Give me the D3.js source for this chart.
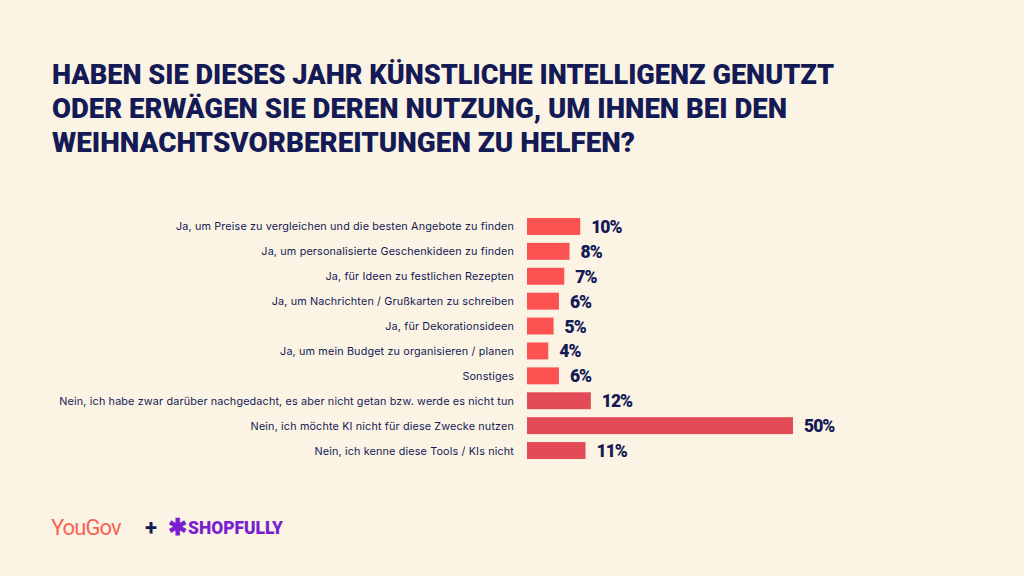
<!DOCTYPE html><html><head><meta charset="utf-8"><script src="https://cdn.jsdelivr.net/npm/d3@7"></script>
<style>body{margin:0;background:#fbf4e4}</style></head><body><script>
const categories=["Ja, um Preise zu vergleichen und die besten Angebote zu finden","Ja, um personalisierte Geschenkideen zu finden","Ja, für Ideen zu festlichen Rezepten","Ja, um Nachrichten / Grußkarten zu schreiben","Ja, für Dekorationsideen","Ja, um mein Budget zu organisieren / planen","Sonstiges","Nein, ich habe zwar darüber nachgedacht, es aber nicht getan bzw. werde es nicht tun","Nein, ich möchte KI nicht für diese Zwecke nutzen","Nein, ich kenne diese Tools / KIs nicht"];
const values=[10,8,7,6,5,4,6,12,50,11];
const titleLines=["HABEN SIE DIESES JAHR KÜNSTLICHE INTELLIGENZ GENUTZT","ODER ERWÄGEN SIE DEREN NUTZUNG, UM IHNEN BEI DEN","WEIHNACHTSVORBEREITUNGEN ZU HELFEN?"];
const svg=d3.select("body").append("svg").attr("width",1024).attr("height",576);
svg.append("rect").attr("width",1024).attr("height",576).attr("fill","#fbf4e4");
svg.selectAll("text.t").data(titleLines).join("text").attr("x",52).attr("y",(d,i)=>84+i*34)
 .attr("font-family","Roboto, sans-serif").attr("font-weight",900).attr("font-size",27).attr("fill","#141a55")
 .attr("textLength",(d,i)=>[782,735,583][i]).attr("lengthAdjust","spacingAndGlyphs").text(d=>d);
const x=d3.scaleLinear().domain([0,50]).range([527,793]);
const y=d3.scaleBand().domain(categories).range([214,463]).paddingInner(0.32).paddingOuter(0.16);
svg.selectAll("rect.b").data(values).join("rect").attr("x",x(0)).attr("y",(d,i)=>y(categories[i]))
 .attr("width",d=>x(d)-x(0)).attr("height",y.bandwidth()).attr("fill",(d,i)=>i>=7?"#e34b57":"#fe5252");
svg.selectAll("text.l").data(categories).join("text").attr("x",514).attr("y",d=>y(d)+y.bandwidth()/2+4)
 .attr("text-anchor","end").attr("font-family","Inter, sans-serif").attr("font-size",10.8).attr("letter-spacing",0.15).attr("fill","#141a55").text(d=>d);
svg.selectAll("text.v").data(values).join("text").attr("x",d=>x(d)+11).attr("y",(d,i)=>y(categories[i])+y.bandwidth()/2+6.5)
 .attr("font-family","Roboto, sans-serif").attr("font-weight",900).attr("font-size",17.5).attr("letter-spacing",-1).attr("fill","#141a55").text(d=>d+"%");
svg.append("text").attr("x",51).attr("y",535).attr("font-family","Roboto, sans-serif").attr("font-size",22).attr("fill","#f86355").attr("letter-spacing",-0.9).text("YouGov");
svg.append("text").attr("x",145).attr("y",535).attr("font-family","Roboto, sans-serif").attr("font-size",22).attr("font-weight",700).attr("fill","#141a55").text("+");
svg.append("text").attr("x",168).attr("y",535).attr("font-family","Roboto, sans-serif").attr("font-size",23).attr("font-weight",900).attr("fill","#7a1fd0").text("✱");
svg.append("text").attr("x",188).attr("y",534).attr("font-family","Roboto, sans-serif").attr("font-size",19).attr("font-weight",900).attr("fill","#7a1fd0").attr("textLength",95).attr("lengthAdjust","spacingAndGlyphs").text("SHOPFULLY");
</script></body></html>
